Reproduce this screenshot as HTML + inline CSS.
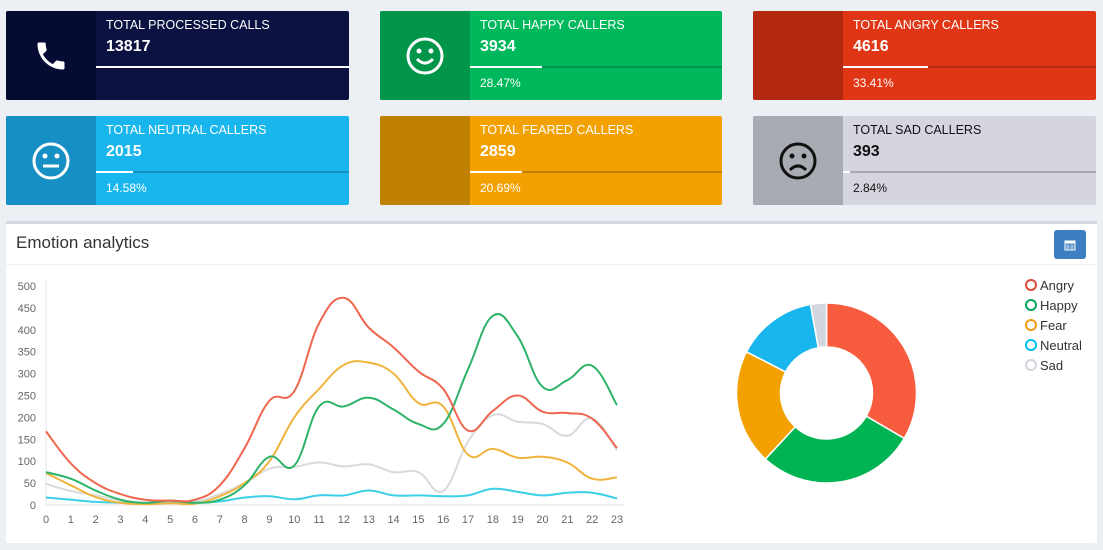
<!DOCTYPE html>
<html><head><meta charset="utf-8">
<style>
body{margin:0;width:1103px;height:550px;background:#ecf0f5;font-family:"Liberation Sans",sans-serif;position:relative;overflow:hidden}
.card{position:absolute;height:89px;border-radius:2px;overflow:hidden}
.card .ic{position:absolute;left:0;top:0;width:90px;height:100%;display:flex;align-items:center;justify-content:center}
.card .t{position:absolute;left:100px;top:7px;font-size:12.5px;color:#fff}
.card .v{position:absolute;left:100px;top:27px;font-size:16px;font-weight:bold;color:#fff}
.card .bar{position:absolute;left:90px;right:0;top:55px;height:2px;background:rgba(0,0,0,.2)}
.card .bar i{display:block;height:2px;background:#fff}
.card .p{position:absolute;left:100px;top:65px;font-size:12px;color:#fff}
.dark .t,.dark .v,.dark .p{color:#111}
#panel{position:absolute;left:6px;top:221px;width:1091px;height:322px;background:#fff;border-top:3px solid #d2d6de;box-sizing:border-box;border-radius:2px}
</style></head><body>
<div class="card" style="left:6px;top:11px;width:343px;background:#0b1140">
 <div class="ic" style="background:#050b33"><svg width="36" height="36" viewBox="0 0 24 24"><path fill="#fff" d="M6.6 10.8c1.4 2.8 3.8 5.1 6.6 6.6l2.2-2.2c.3-.3.7-.4 1-.2 1.1.4 2.3.6 3.6.6.6 0 1 .4 1 1V20c0 .6-.4 1-1 1C10.6 21 3 13.4 3 4c0-.6.4-1 1-1h3.5c.6 0 1 .4 1 1 0 1.3.2 2.5.6 3.6.1.3 0 .7-.2 1z"/></svg></div>
 <div class="t">TOTAL PROCESSED CALLS</div><div class="v">13817</div><div class="bar"><i style="width:100%"></i></div>
</div>
<div class="card" style="left:380px;top:11px;width:342px;background:#00b85c">
 <div class="ic" style="background:#009549"><svg width="40" height="40" viewBox="0 0 40 40"><circle cx="20" cy="20" r="17" fill="none" stroke="#fff" stroke-width="3"/><circle cx="14" cy="15" r="2.5" fill="#fff"/><circle cx="26" cy="15" r="2.5" fill="#fff"/><path d="M12 23q8 8 16 0" fill="none" stroke="#fff" stroke-width="3"/></svg></div>
 <div class="t">TOTAL HAPPY CALLERS</div><div class="v">3934</div><div class="bar"><i style="width:28.47%"></i></div><div class="p">28.47%</div>
</div>
<div class="card" style="left:753px;top:11px;width:343px;background:#e03616">
 <div class="ic" style="background:#b3290f"></div>
 <div class="t">TOTAL ANGRY CALLERS</div><div class="v">4616</div><div class="bar"><i style="width:33.41%"></i></div><div class="p">33.41%</div>
</div>
<div class="card" style="left:6px;top:116px;width:343px;background:#19b6ee">
 <div class="ic" style="background:#168fc4"><svg width="40" height="40" viewBox="0 0 40 40"><circle cx="20" cy="20" r="17" fill="none" stroke="#fff" stroke-width="3"/><circle cx="14" cy="15" r="2.5" fill="#fff"/><circle cx="26" cy="15" r="2.5" fill="#fff"/><path d="M12 25h16" stroke="#fff" stroke-width="3"/></svg></div>
 <div class="t">TOTAL NEUTRAL CALLERS</div><div class="v">2015</div><div class="bar"><i style="width:14.58%"></i></div><div class="p">14.58%</div>
</div>
<div class="card" style="left:380px;top:116px;width:342px;background:#f2a100">
 <div class="ic" style="background:#c08000"></div>
 <div class="t">TOTAL FEARED CALLERS</div><div class="v">2859</div><div class="bar"><i style="width:20.69%"></i></div><div class="p">20.69%</div>
</div>
<div class="card dark" style="left:753px;top:116px;width:343px;background:#d4d5de">
 <div class="ic" style="background:#a9abb3"><svg width="40" height="40" viewBox="0 0 40 40"><circle cx="20" cy="20" r="17" fill="none" stroke="#111" stroke-width="3"/><circle cx="14" cy="15" r="2.5" fill="#111"/><circle cx="26" cy="15" r="2.5" fill="#111"/><path d="M12 29q8 -8 16 0" fill="none" stroke="#111" stroke-width="3"/></svg></div>
 <div class="t">TOTAL SAD CALLERS</div><div class="v">393</div><div class="bar" style="background:rgba(0,0,0,.2)"><i style="width:2.84%"></i></div><div class="p">2.84%</div>
</div>
<div id="panel">
 <div style="position:absolute;left:10px;top:9px;font-size:17px;color:#333">Emotion analytics</div>
 <div style="position:absolute;left:1048px;top:6px;width:32px;height:29px;background:#3c7ebf;border-radius:3px;display:flex;align-items:center;justify-content:center"><svg width="12" height="12" viewBox="0 0 12 12"><rect x="1" y="2" width="10" height="9" fill="none" stroke="#fff"/><rect x="1" y="2" width="10" height="2.5" fill="#fff"/><path d="M1 7h10M1 9h10M4 4v7M8 4v7" stroke="#fff" stroke-width=".6"/></svg></div>
 <div style="position:absolute;left:0;right:0;top:40px;height:1px;background:#f0f0f0"></div>
</div>
<svg id="chart" width="1103" height="550" style="position:absolute;left:0;top:0"></svg>
<script>
const hours=["0","1","2","3","4","5","6","7","8","9","10","11","12","13","14","15","16","17","18","19","20","21","22","23"];
const yTicks=[0,50,100,150,200,250,300,350,400,450,500];
const angry=[168,95,50,25,12,10,12,45,130,238,260,415,473,405,360,305,265,170,215,250,213,210,197,130];
const happy=[75,60,33,12,5,10,5,12,45,110,90,225,225,245,218,185,185,310,432,385,270,285,318,228];
const fear=[73,45,18,5,2,4,3,20,50,100,200,265,320,325,300,233,225,115,128,108,110,97,60,63];
const neutral=[17,12,7,5,3,5,5,8,17,20,13,22,22,33,22,22,20,22,37,30,22,28,28,15];
const sad=[48,32,22,10,5,10,8,25,50,83,87,97,88,93,75,75,32,145,205,190,185,158,198,125];
const donutLabels=["Angry","Happy","Fear","Neutral","Sad"];
const donutValues=[4616,3934,2859,2015,393];
const seriesNames=["Sad","Neutral","Fear","Happy","Angry"];
const lineColors={Angry:"#f0664f",Happy:"#2eb36b",Fear:"#f0b43c",Neutral:"#3ccfe8",Sad:"#dadada"};
const pieColors=["#f85c3f","#00b353","#f2a100","#19b6ee","#d2d6de"];
const legendColors=["#dd4b39","#00a65a","#f39c12","#00c0ef","#d2d6de"];
const NS="http://www.w3.org/2000/svg",svg=document.getElementById('chart');
function mk(t,a){const e=document.createElementNS(NS,t);for(const k in a)e.setAttribute(k,a[k]);svg.appendChild(e);return e;}
const X0=46,X1=617,Y0=505,Y1=286;
const xs=i=>X0+(X1-X0)*i/(hours.length-1);
const ys=v=>Y0-(Y0-Y1)*v/500;
mk('line',{x1:X0,y1:Y1-5,x2:X0,y2:Y0,stroke:'#e5e5e5'});
mk('line',{x1:X0,y1:Y0,x2:X1+8,y2:Y0,stroke:'#e5e5e5'});
yTicks.forEach(v=>{const t=mk('text',{x:36,y:ys(v)+4,'text-anchor':'end','font-size':'11','fill':'#666','font-family':'Liberation Sans'});t.textContent=v;
});
hours.forEach((h,i)=>{const t=mk('text',{x:xs(i),y:523,'text-anchor':'middle','font-size':'11','fill':'#666','font-family':'Liberation Sans'});t.textContent=h;
});
const data={Angry:angry,Happy:happy,Fear:fear,Neutral:neutral,Sad:sad};
seriesNames.forEach(n=>{const arr=data[n];const p=arr.map((v,i)=>[xs(i),ys(v)]);
let d='M'+p[0][0]+','+p[0][1];const k=0.2;
for(let i=0;i<p.length-1;i++){const a=p[Math.max(0,i-1)],b=p[i],c=p[i+1],e=p[Math.min(p.length-1,i+2)];
d+=` C${b[0]+(c[0]-a[0])*k},${b[1]+(c[1]-a[1])*k} ${c[0]-(e[0]-b[0])*k},${c[1]-(e[1]-b[1])*k} ${c[0]},${c[1]}`;}
const l=mk('path',{d:d,fill:'none',stroke:lineColors[n],'stroke-width':2});
});
const cx=826.5,cy=393,R=90,r=46;const tot=donutValues.reduce((a,b)=>a+b,0);let ang=-Math.PI/2;
donutValues.forEach((v,i)=>{const a2=ang+v/tot*2*Math.PI;const lg=(a2-ang)>Math.PI?1:0;
const P=(rr,a)=>(cx+rr*Math.cos(a))+','+(cy+rr*Math.sin(a));
const s=mk('path',{d:`M${P(R,ang)} A${R},${R} 0 ${lg} 1 ${P(R,a2)} L${P(r,a2)} A${r},${r} 0 ${lg} 0 ${P(r,ang)} Z`,fill:pieColors[i],stroke:'#fff','stroke-width':1.5});
ang=a2;});
donutLabels.forEach((n,i)=>{const y=285+i*20;const c=mk('circle',{cx:1031,cy:y,r:5,fill:'none',stroke:legendColors[i],'stroke-width':2});

const t=mk('text',{x:1040,y:y+5,'font-size':'13','fill':'#333','font-family':'Liberation Sans'});t.textContent=n;
});
</script>
</body></html>
